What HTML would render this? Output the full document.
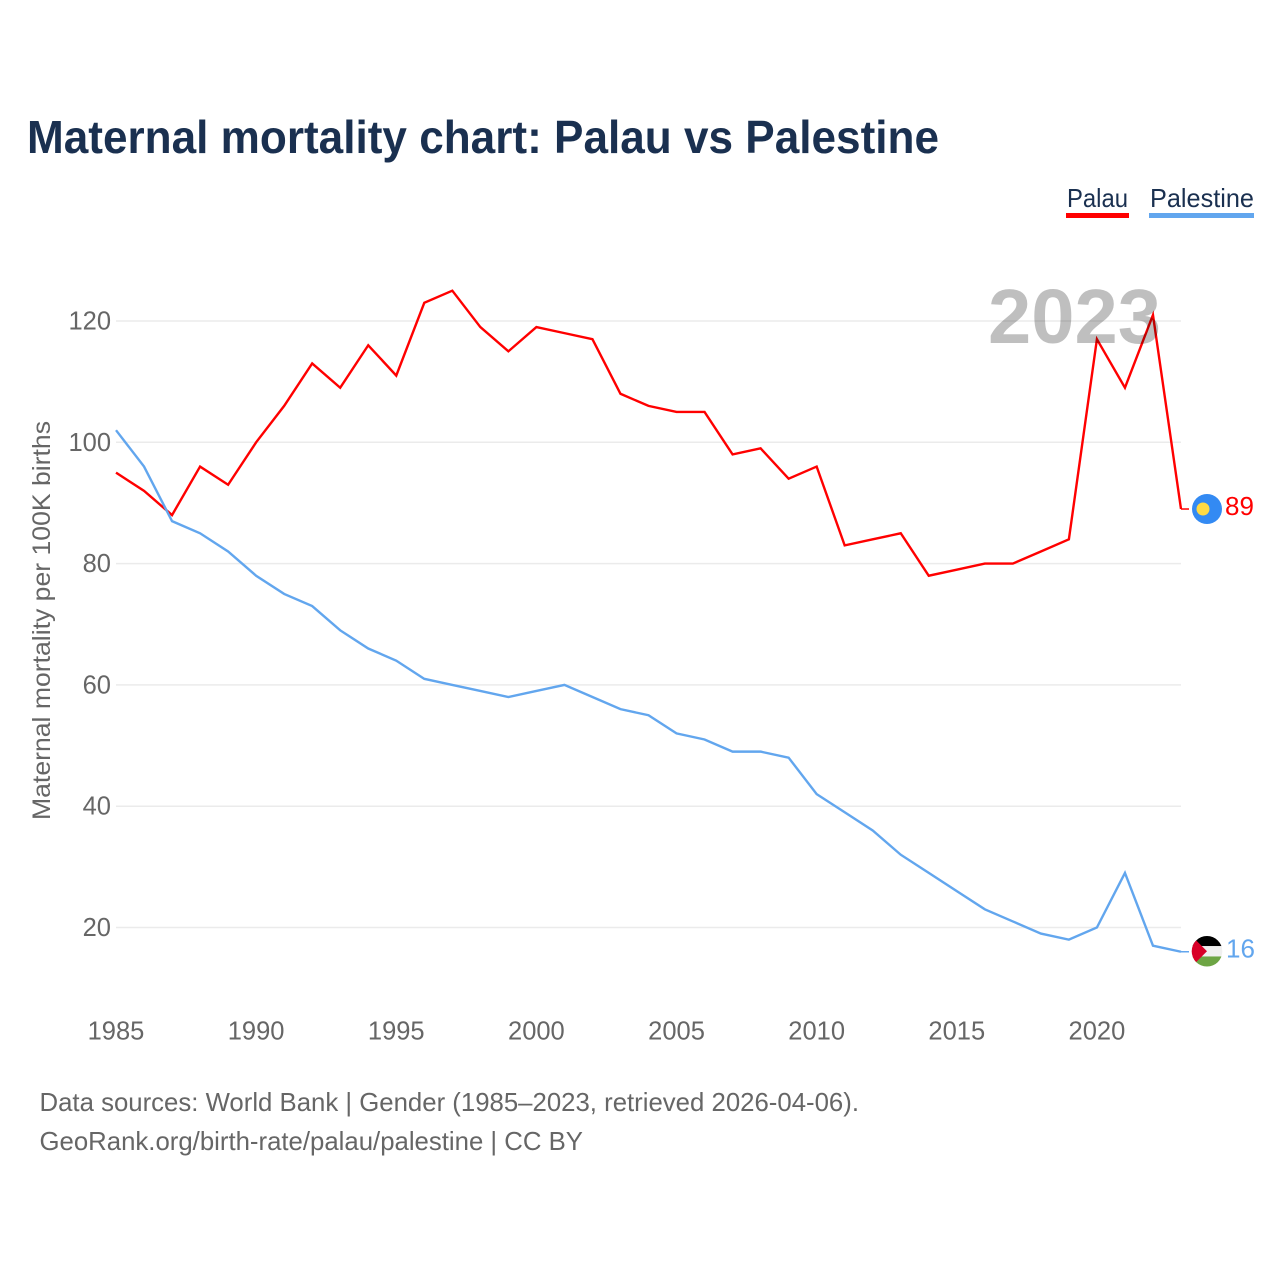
<!DOCTYPE html>
<html lang="en">
<head>
<meta charset="utf-8">
<title>Maternal mortality chart: Palau vs Palestine</title>
<style>
html,body{margin:0;padding:0;background:#fff;width:1280px;height:1280px;overflow:hidden}
svg{display:block;font-family:"Liberation Sans",sans-serif}
</style>
</head>
<body>
<svg id="chart" xmlns="http://www.w3.org/2000/svg" width="1280" height="1280" viewBox="0 0 1280 1280">
  <rect width="1280" height="1280" fill="#fff"/>
  <text x="27" y="153" font-size="46" font-weight="700" fill="#1a3050" textLength="912" lengthAdjust="spacingAndGlyphs">Maternal mortality chart: Palau vs Palestine</text>

  <g>
    <g>
      <text x="1067" y="207" font-size="26" fill="#1a3050" textLength="61" lengthAdjust="spacingAndGlyphs">Palau</text>
      <rect x="1066" y="213" width="63" height="5" fill="#ff0000"/>
    </g>
    <g>
      <text x="1150" y="207" font-size="26" fill="#1a3050" textLength="104" lengthAdjust="spacingAndGlyphs">Palestine</text>
      <rect x="1149" y="213" width="105" height="5" fill="#62a6ee"/>
    </g>
  </g>

  <g id="grid"></g>
  <g id="yticks"></g>
  <g id="xticks"></g>
  <text transform="translate(50 620.5) rotate(-90)" text-anchor="middle" font-size="25" fill="#666" textLength="399" lengthAdjust="spacingAndGlyphs">Maternal mortality per 100K births</text>

  <g id="series"></g>
  <g id="ends"></g>

  <text id="year" x="1161" y="343" text-anchor="end" font-size="77" font-weight="700" fill="rgba(0,0,0,0.25)" textLength="173" lengthAdjust="spacingAndGlyphs">2023</text>

  <g>
    <text x="39.5" y="1111" font-size="26" fill="#666" textLength="819.5" lengthAdjust="spacingAndGlyphs">Data sources: World Bank | Gender (1985–2023, retrieved 2026-04-06).</text>
    <text x="39.5" y="1150" font-size="26" fill="#666" textLength="543.5" lengthAdjust="spacingAndGlyphs">GeoRank.org/birth-rate/palau/palestine | CC BY</text>
  </g>
</svg>
<script>
const years = [1985,1986,1987,1988,1989,1990,1991,1992,1993,1994,1995,1996,1997,1998,1999,2000,2001,2002,2003,2004,2005,2006,2007,2008,2009,2010,2011,2012,2013,2014,2015,2016,2017,2018,2019,2020,2021,2022,2023];
const palauValues = [95,92,88,96,93,100,106,113,109,116,111,123,125,119,115,119,118,117,108,106,105,105,98,99,94,96,83,84,85,78,79,80,80,82,84,117,109,121,89];
const palestineValues = [102,96,87,85,82,78,75,73,69,66,64,61,60,59,58,59,60,58,56,55,52,51,49,49,48,42,39,36,32,29,26,23,21,19,18,20,29,17,16];
const yTickValues = [20,40,60,80,100,120];
const xTickValues = [1985,1990,1995,2000,2005,2010,2015,2020];

const NS = 'http://www.w3.org/2000/svg';
function xScale(v){ return 116 + (v - 1985) * (1181 - 116) / 38; }
function yScale(v){ return 927.5 - (v - 20) * (927.5 - 321) / 100; }
function mk(tag, parent, attrs){
  const el = document.createElementNS(NS, tag);
  for (const k in attrs) el.setAttribute(k, attrs[k]);
  parent.appendChild(el);
  return el;
}

const gridG = document.getElementById('grid');
const yG = document.getElementById('yticks');
yTickValues.forEach(function(v){
  const line = mk('line', gridG, {x1:116, x2:1181, y1:yScale(v), y2:yScale(v), stroke:'#ebebeb', 'stroke-width':1.5});
  
  
  const t = mk('text', yG, {x:111, y:yScale(v) + 8.5, 'text-anchor':'end', 'font-size':25.5, fill:'#666'});
  
  
  t.textContent = v;
});

const xG = document.getElementById('xticks');
xTickValues.forEach(function(v){
  const t = mk('text', xG, {x:xScale(v), y:1039.5, 'text-anchor':'middle', 'font-size':25.5, fill:'#666'});
  
  
  t.textContent = v;
});

function linePoints(vals){
  return vals.map(function(v, i){ return xScale(years[i]).toFixed(2) + ',' + yScale(v).toFixed(2); }).join(' ');
}
const seriesG = document.getElementById('series');
const palauLine = mk('polyline', seriesG, {points:linePoints(palauValues), fill:'none', stroke:'#ff0000', 'stroke-width':2.4, 'stroke-linejoin':'miter'});


const palestineLine = mk('polyline', seriesG, {points:linePoints(palestineValues), fill:'none', stroke:'#62a6ee', 'stroke-width':2.4, 'stroke-linejoin':'miter'});



const endsG = document.getElementById('ends');
const lastYear = years[years.length - 1];

/* Palau end marker */
const palauLast = palauValues[palauValues.length - 1];
const py = yScale(palauLast);
const palauConn = mk('line', endsG, {x1:xScale(lastYear), x2:1189, y1:py, y2:py, stroke:'#ff0000', 'stroke-width':1.5});


const palauFlag = mk('g', endsG, {transform:'translate(1207 ' + py + ')'});


mk('circle', palauFlag, {r:15, fill:'#338af3'});
mk('circle', palauFlag, {cx:-4, cy:0, r:6.5, fill:'#ffda44'});
const palauLabel = mk('text', endsG, {x:1225, y:py + 6, 'font-size':26, fill:'#ff0000'});


palauLabel.textContent = palauLast;

/* Palestine end marker */
const palestineLast = palestineValues[palestineValues.length - 1];
const sy = yScale(palestineLast);
const palConn = mk('line', endsG, {x1:xScale(lastYear), x2:1189, y1:sy, y2:sy, stroke:'#62a6ee', 'stroke-width':1.5});


const defs = mk('defs', endsG, {});
const clip = mk('clipPath', defs, {id:'flag-clip'});
mk('circle', clip, {r:15.3});
const palFlag = mk('g', endsG, {transform:'translate(1207 ' + (sy - 0.5) + ')', 'clip-path':'url(#flag-clip)'});


mk('rect', palFlag, {x:-16, y:-16, width:32, height:11, fill:'#000'});
mk('rect', palFlag, {x:-16, y:-5.2, width:32, height:10.6, fill:'#f0f0f0'});
mk('rect', palFlag, {x:-16, y:5.2, width:32, height:11, fill:'#6da544'});
mk('polygon', palFlag, {points:'-16,-16 0,0 -16,16', fill:'#d80027'});
const palLabel = mk('text', endsG, {x:1226, y:sy + 5.5, 'font-size':26, fill:'#62a6ee'});


palLabel.textContent = palestineLast;
</script>
</body>
</html>
